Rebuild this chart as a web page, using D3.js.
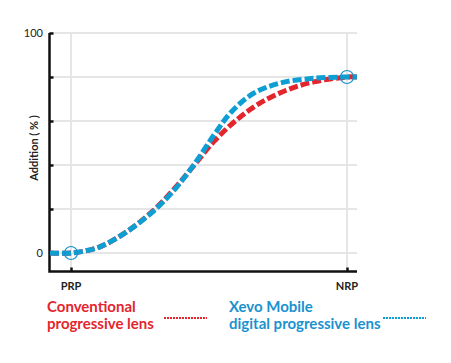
<!doctype html>
<html lang="en">
<head>
  <meta charset="UTF-8">
  <title>Addition</title>
  <script src="https://cdn.jsdelivr.net/npm/d3@7"></script>
</head>
<body style="margin:0; background:white">
<div id="container"></div>
<script type="text/javascript">
// progression position (PRP = 0, NRP = 100) and addition in %
var conventionalX = [-7.6, 0, 10, 20, 30, 38, 45, 52, 60, 68, 78, 88, 100, 103.6];
var conventionalY = [0, 0, 2.6, 9.5, 19.5, 30, 40.5, 51, 60.5, 67.8, 74, 77.8, 80, 80];
var xevoX = [-7.6, 0, 10, 20, 30, 38, 45, 52, 58, 66, 76, 88, 100, 103.6];
var xevoY = [0, 0, 2.6, 9.5, 19.2, 29.5, 41, 54, 64, 72.5, 77.3, 79.4, 80, 80];
var yTicks = [0, 20, 40, 60, 80, 100];
var yLabelTicks = [0, 100];
var xTicks = [0, 100];
var xTickLabels = ['PRP', 'NRP'];
var markers = [[0, 0], [100, 80]];

var red = '#e3262d', blue = '#0d9fd3';

var svg = d3.select('#container').append('svg')
  .attr('width', 451)
  .attr('height', 363)
  .style('font-family', 'Lato, sans-serif');

var x = d3.scaleLinear().domain([0, 100]).range([71, 347]);
var y = d3.scaleLinear().domain([0, 100]).range([253, 33]);
var left = 49.5, right = 357, bottom = 271.5;

// grid
svg.selectAll('.hgrid').data(yTicks).enter().append('line')
  .attr('x1', left).attr('x2', right)
  .attr('y1', function(d) { return y(d) }).attr('y2', function(d) { return y(d) })
  .attr('stroke', '#e6e6e6').attr('stroke-width', 2);
svg.selectAll('.vgrid').data(xTicks).enter().append('line')
  .attr('x1', function(d) { return x(d) }).attr('x2', function(d) { return x(d) })
  .attr('y1', y(100)).attr('y2', bottom)
  .attr('stroke', '#e6e6e6').attr('stroke-width', 2);

// axes
var yAxis = d3.axisRight(y).tickValues(yTicks.slice(1)).tickSize(4).tickFormat('');
var ya = svg.append('g').attr('transform', 'translate(' + left + ',0)').call(yAxis);
ya.select('.domain').remove();
ya.selectAll('line').attr('stroke', '#111').attr('stroke-width', 2.5);
svg.append('path')
  .attr('d', 'M' + left + ',' + y(100) + 'V' + bottom + 'H' + right)
  .attr('fill', 'none').attr('stroke', '#111').attr('stroke-width', 2.5);

var xAxis = d3.axisTop(x).tickValues(xTicks).tickSize(4).tickFormat('');
var xa = svg.append('g').attr('transform', 'translate(0,' + bottom + ')').call(xAxis);
xa.select('.domain').remove();
xa.selectAll('line').attr('stroke', '#111').attr('stroke-width', 2.5);

svg.selectAll('.ylab').data(yLabelTicks).enter().append('text')
  .attr('x', 43).attr('y', function(d) { return y(d) + 4 })
  .attr('text-anchor', 'end').attr('font-size', 11).attr('fill', '#222')
  .text(function(d) { return d });

svg.selectAll('.xlab').data(xTicks).enter().append('text')
  .attr('x', function(d) { return x(d) }).attr('y', 290)
  .attr('text-anchor', 'middle').attr('font-size', 11).attr('font-weight', 'bold').attr('fill', '#222')
  .text(function(d, i) { return xTickLabels[i] });

svg.append('text')
  .attr('transform', 'translate(38,148) rotate(-90)')
  .attr('text-anchor', 'middle').attr('font-size', 11).attr('font-weight', 'bold').attr('fill', '#222')
  .text('Addition ( % )');

// curves
var line = d3.line()
  .x(function(d) { return x(d[0]) })
  .y(function(d) { return y(d[1]) })
  .curve(d3.curveCatmullRom.alpha(0.5));

svg.append('path')
  .attr('d', line(d3.zip(conventionalX, conventionalY)))
  .attr('fill', 'none').attr('stroke', red).attr('stroke-width', 5)
  .attr('stroke-dasharray', '9,3');
svg.append('path')
  .attr('d', line(d3.zip(xevoX, xevoY)))
  .attr('fill', 'none').attr('stroke', blue).attr('stroke-width', 5)
  .attr('stroke-dasharray', '9,3');

svg.selectAll('.marker').data(markers).enter().append('circle')
  .attr('cx', function(d) { return x(d[0]) })
  .attr('cy', function(d) { return y(d[1]) })
  .attr('r', 6.5)
  .attr('fill', 'none').attr('stroke', '#1890cc').attr('stroke-width', 1.2);

// legend
var legend = [
  {lines: ['Conventional', 'progressive lens'], color: red, tx: 47, lx: 164},
  {lines: ['Xevo Mobile', 'digital progressive lens'], color: '#1a92cf', tx: 229, lx: 383}
];
legend.forEach(function(l, i) {
  var t = svg.append('text').attr('x', l.tx).attr('y', 312)
    .attr('font-size', 15).attr('font-weight', 'bold').attr('fill', l.color);
  l.lines.forEach(function(s, j) {
    t.append('tspan').attr('x', l.tx).attr('dy', j == 0 ? 0 : 17).text(s);
  });
  svg.append('line')
    .attr('x1', l.lx).attr('x2', l.lx + 43).attr('y1', 318).attr('y2', 318)
    .attr('stroke', i == 0 ? red : blue).attr('stroke-width', 2).attr('stroke-dasharray', '2,1');
});
</script>
</body>
</html>
